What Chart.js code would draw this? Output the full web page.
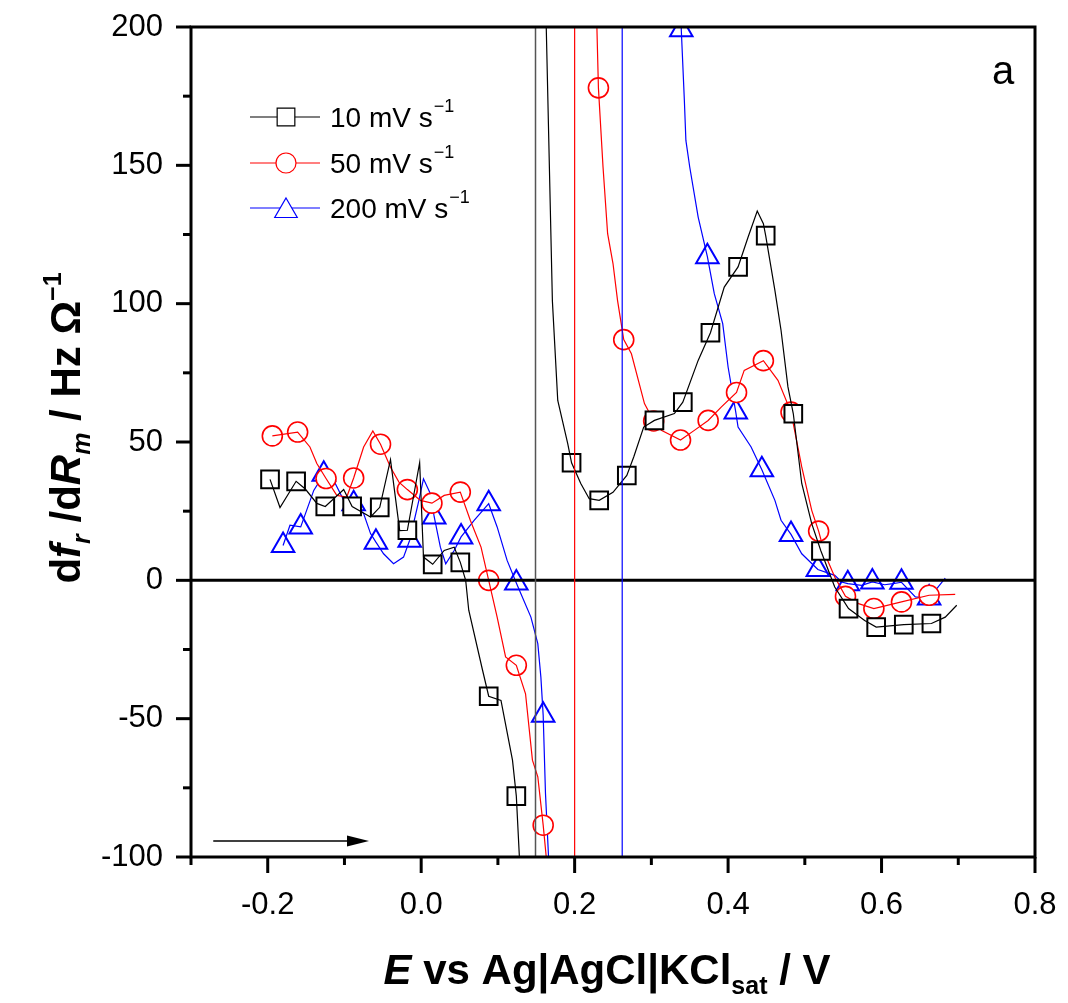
<!DOCTYPE html>
<html>
<head>
<meta charset="utf-8">
<script src="https://cdn.jsdelivr.net/npm/chart.js@4.4.1/dist/chart.umd.min.js"></script>
<style>
  html, body { margin: 0; padding: 0; background: #fff; }
  canvas { display: block; }
</style>
</head>
<body>
<canvas id="chart" width="1068" height="1003"></canvas>
<script>
// 10 mV/s (black), two branches either side of the asymptote
const blackLine1X = [-0.197, -0.184, -0.163, -0.151, -0.136, -0.125, -0.101, -0.090, -0.066, -0.054, -0.040, -0.028, -0.018, -0.002, 0.003, 0.015, 0.030, 0.043, 0.051, 0.058, 0.062, 0.080, 0.088, 0.104, 0.119, 0.124, 0.128, 0.131];
const blackLine1Y = [36.5, 26.3, 35.8, 33, 27.8, 26.7, 32.8, 26.7, 22.9, 26.4, 43.6, 18, 18.1, 42.5, 8.4, 5.8, 10.8, 12, 6.5, 0, -10.8, -32.5, -41.9, -43.4, -65, -78, -100, -115];
const blackLine2X = [0.161, 0.163, 0.171, 0.178, 0.191, 0.196, 0.208, 0.219, 0.232, 0.250, 0.268, 0.277, 0.290, 0.304, 0.330, 0.341, 0.361, 0.377, 0.395, 0.413, 0.426, 0.438, 0.446, 0.449, 0.461, 0.469, 0.478, 0.485, 0.496, 0.509, 0.521, 0.539, 0.557, 0.578, 0.593, 0.629, 0.665, 0.683, 0.698];
const blackLine2Y = [240, 200, 101, 65, 49.4, 42.5, 35, 29.5, 28.9, 31.8, 37.9, 44.6, 55.4, 57.8, 60.3, 64.4, 79.5, 89.5, 106, 113.3, 124, 133.5, 128.9, 124.6, 104.8, 90.4, 69.9, 60.2, 35, 20.5, 10.6, -2.4, -10.2, -14.5, -16.9, -16, -15.6, -13.3, -9];
const blackMarkX = [-0.197, -0.163, -0.125, -0.090, -0.054, -0.018, 0.015, 0.051, 0.088, 0.124, 0.196, 0.232, 0.268, 0.304, 0.341, 0.377, 0.413, 0.449, 0.485, 0.521, 0.557, 0.593, 0.629, 0.665];
const blackMarkY = [36.5, 35.8, 26.7, 26.7, 26.4, 18.1, 5.8, 6.5, -41.9, -78, 42.5, 28.9, 37.9, 57.8, 64.4, 89.5, 113.3, 124.6, 60.2, 10.6, -10.2, -16.9, -16, -15.6];

// 50 mV/s (red)
const redLine1X = [-0.194, -0.161, -0.145, -0.136, -0.124, -0.110, -0.097, -0.088, -0.075, -0.063, -0.053, -0.040, -0.029, -0.018, -0.001, 0.014, 0.030, 0.051, 0.064, 0.078, 0.088, 0.099, 0.110, 0.124, 0.136, 0.145, 0.152, 0.159, 0.163, 0.165];
const redLine1Y = [52.2, 53.6, 48.2, 42.2, 36.8, 30.7, 30.1, 37, 48.2, 54, 49.2, 40.9, 35.5, 32.8, 28.9, 27.9, 30.7, 31.9, 21.7, 12, 0, -13.3, -27.7, -30.7, -41, -65, -71, -88.5, -100, -120];
const redLine2X = [0.227, 0.229, 0.231, 0.237, 0.243, 0.250, 0.256, 0.264, 0.274, 0.291, 0.303, 0.313, 0.338, 0.356, 0.374, 0.391, 0.411, 0.421, 0.446, 0.465, 0.482, 0.496, 0.509, 0.518, 0.526, 0.539, 0.553, 0.570, 0.590, 0.626, 0.662, 0.696];
const redLine2Y = [230, 200, 178, 149.4, 125.3, 114.5, 101, 87, 81.9, 63.9, 57.6, 54.2, 50.7, 54.2, 57.8, 62.6, 67.9, 75.9, 79.4, 72.3, 60.8, 41, 25.3, 17.8, 9.6, 1.2, -5.8, -8.4, -10.2, -7.8, -5.4, -5.1];
const redMarkX = [-0.194, -0.161, -0.124, -0.088, -0.053, -0.018, 0.014, 0.051, 0.088, 0.124, 0.159, 0.231, 0.264, 0.303, 0.338, 0.374, 0.411, 0.446, 0.482, 0.518, 0.553, 0.590, 0.626, 0.662];
const redMarkY = [52.2, 53.6, 36.8, 37, 49.2, 32.8, 27.9, 31.9, 0, -30.7, -88.5, 178, 87, 57.6, 50.7, 57.8, 67.9, 79.4, 60.8, 17.8, -5.8, -10.2, -7.8, -5.4];

// 200 mV/s (blue)
const blueLine1X = [-0.180, -0.171, -0.157, -0.140, -0.127, -0.114, -0.101, -0.088, -0.075, -0.066, -0.059, -0.049, -0.036, -0.023, -0.015, -0.003, 0.003, 0.012, 0.017, 0.025, 0.032, 0.043, 0.052, 0.069, 0.088, 0.099, 0.112, 0.124, 0.143, 0.152, 0.156, 0.159, 0.162, 0.166, 0.168];
const blueLine1Y = [12.6, 19.9, 19.3, 32.5, 38.3, 36.1, 28.9, 27.7, 24.1, 16.9, 13.8, 9.6, 6, 8.4, 14.5, 28.9, 36.7, 31.3, 22.9, 12, 6, 10.8, 15.7, 21.7, 27.7, 19.3, 7.2, -1, -13.3, -22.9, -35, -48.8, -77, -100, -120];
const blueLine2X = [0.337, 0.339, 0.343, 0.345, 0.350, 0.361, 0.373, 0.382, 0.393, 0.400, 0.410, 0.413, 0.430, 0.444, 0.461, 0.469, 0.482, 0.496, 0.517, 0.539, 0.548, 0.556, 0.574, 0.588, 0.604, 0.615, 0.626, 0.644, 0.662, 0.683];
const blueLine2Y = [260, 199, 173.5, 159, 149.4, 131.3, 117, 103.6, 92.8, 77.1, 60.8, 55.4, 48.2, 40, 28.9, 21.7, 16.6, 9.6, 3.9, 1.8, -0.6, -1.2, -1.8, -0.6, -1.6, -1.2, -0.7, -6, -6.4, 0.8];
const blueMarkX = [-0.180, -0.157, -0.127, -0.088, -0.059, -0.015, 0.017, 0.052, 0.088, 0.124, 0.159, 0.339, 0.373, 0.410, 0.444, 0.482, 0.517, 0.556, 0.588, 0.626, 0.662];
const blueMarkY = [12.6, 19.3, 38.3, 27.7, 13.8, 14.5, 22.9, 15.7, 27.7, -1, -48.8, 199, 117, 60.8, 40, 16.6, 3.9, -1.2, -0.6, -0.7, -6.4];

// vertical marker lines, zero line, sweep arrow
const vlineX = [0.149, 0.2, 0.262];
const vlineColors = ['#555555', '#ff0000', '#0000ff'];
const zeroLineX = [-0.3, 0.8];
const arrowX = [-0.271, -0.068];
const arrowY = -94.2;

const seriesNames = ['10 mV s', '50 mV s', '200 mV s'];
const seriesColors = ['#000000', '#ff0000', '#0000ff'];
const seriesMarkers = ['rect', 'circle', 'triangle'];
const markerRadius = { rect: 12.5, circle: 10, triangle: 13 };

const xMin = -0.3, xMax = 0.8, yMin = -100, yMax = 200;
const FONT = '"Liberation Sans", Arial, sans-serif';

function pts(xs, ys) {
    return xs.map((x, i) => ({ x: x, y: ys[i] }));
}

function lineSet(xs, ys, color, width) {
    return {
        data: pts(xs, ys),
        showLine: true,
        borderColor: color,
        borderWidth: width,
        pointRadius: 0,
        fill: false,
        tension: 0
    };
}

function markSet(xs, ys, idx) {
    const style = seriesMarkers[idx];
    return {
        data: pts(xs, ys),
        showLine: false,
        pointStyle: style,
        pointRadius: markerRadius[style],
        pointBorderColor: seriesColors[idx],
        pointBackgroundColor: '#ffffff',
        pointBorderWidth: style === 'circle' ? 1.6 : 2,
        clip: 0
    };
}

const datasets = [];
vlineX.forEach((v, i) => {
    datasets.push(lineSet([v, v], [yMin, yMax], vlineColors[i], i === 0 ? 1.5 : 1.2));
});
datasets.push(lineSet(zeroLineX, [0, 0], '#000000', 3));
datasets.push(lineSet(blackLine1X, blackLine1Y, '#000000', 1.2));
datasets.push(lineSet(blackLine2X, blackLine2Y, '#000000', 1.2));
datasets.push(markSet(blackMarkX, blackMarkY, 0));
datasets.push(lineSet(redLine1X, redLine1Y, '#ff0000', 1.2));
datasets.push(lineSet(redLine2X, redLine2Y, '#ff0000', 1.2));
datasets.push(markSet(redMarkX, redMarkY, 1));
datasets.push(lineSet(blueLine1X, blueLine1Y, '#0000ff', 1.2));
datasets.push(lineSet(blueLine2X, blueLine2Y, '#0000ff', 1.2));
datasets.push(markSet(blueMarkX, blueMarkY, 2));

// text made of pieces with different fonts / offsets
function drawRich(ctx, parts, x, y) {
    let total = 0;
    parts.forEach(p => { ctx.font = p.f; total += ctx.measureText(p.t).width; });
    let cx = x - total / 2;
    parts.forEach(p => {
        ctx.font = p.f;
        ctx.fillText(p.t, cx, y + (p.dy || 0));
        cx += ctx.measureText(p.t).width;
    });
}

function drawMarker(ctx, style, x, y) {
    Chart.helpers.drawPoint(ctx, {
        pointStyle: style,
        radius: markerRadius[style],
        rotation: 0,
        borderWidth: style === 'circle' ? 1.6 : 2
    }, x, y);
}

const decor = {
    id: 'decor',
    afterDraw(chart) {
        const ctx = chart.ctx;
        const a = chart.chartArea;
        const xs = chart.scales.x, ys = chart.scales.y;
        ctx.save();
        ctx.fillStyle = '#000';
        ctx.strokeStyle = '#000';

        // frame
        ctx.lineWidth = 3;
        ctx.strokeRect(a.left, a.top, a.right - a.left, a.bottom - a.top);

        // ticks
        for (let i = -3; i <= 8; i++) {
            const px = xs.getPixelForValue(i / 10);
            const len = (i % 2 === 0) ? 16 : 8;
            ctx.beginPath();
            ctx.moveTo(px, a.bottom);
            ctx.lineTo(px, a.bottom + len);
            ctx.stroke();
        }
        for (let v = yMin; v <= yMax; v += 25) {
            const py = ys.getPixelForValue(v);
            const len = (v % 50 === 0) ? 15 : 8;
            ctx.beginPath();
            ctx.moveTo(a.left, py);
            ctx.lineTo(a.left - len, py);
            ctx.stroke();
        }

        // sweep direction arrow
        const ax0 = xs.getPixelForValue(arrowX[0]);
        const ax1 = xs.getPixelForValue(arrowX[1]);
        const ay = ys.getPixelForValue(arrowY);
        ctx.lineWidth = 1.5;
        ctx.beginPath();
        ctx.moveTo(ax0, ay);
        ctx.lineTo(ax1 - 18, ay);
        ctx.stroke();
        ctx.beginPath();
        ctx.moveTo(ax1, ay);
        ctx.lineTo(ax1 - 22, ay - 5.5);
        ctx.lineTo(ax1 - 22, ay + 5.5);
        ctx.closePath();
        ctx.fill();

        // panel letter
        ctx.font = '40px ' + FONT;
        ctx.textAlign = 'center';
        ctx.textBaseline = 'alphabetic';
        ctx.fillText('a', 1003, 84);
        ctx.textAlign = 'left';

        // legend
        const rowY = [117, 163, 208];
        seriesNames.forEach((name, i) => {
            const y = rowY[i];
            ctx.strokeStyle = seriesColors[i];
            ctx.lineWidth = 1.2;
            ctx.beginPath();
            ctx.moveTo(250, y);
            ctx.lineTo(320, y);
            ctx.stroke();
            ctx.fillStyle = '#fff';
            drawMarker(ctx, seriesMarkers[i], 286, y + (seriesMarkers[i] === 'triangle' ? 3 : 0));
            ctx.fillStyle = '#000';
            ctx.font = '28px ' + FONT;
            ctx.fillText(name, 330, y + 10);
            const w = ctx.measureText(name).width;
            ctx.font = '18px ' + FONT;
            ctx.fillText('\u22121', 330 + w + 1, y - 5);
        });

        // x title
        ctx.fillStyle = '#000';
        drawRich(ctx, [
            { t: 'E', f: 'italic bold 42px ' + FONT },
            { t: ' vs Ag|AgCl|KCl', f: 'bold 42px ' + FONT },
            { t: 'sat', f: 'bold 25px ' + FONT, dy: 10 },
            { t: ' / V', f: 'bold 42px ' + FONT }
        ], 607, 984);

        // y title
        ctx.save();
        ctx.translate(80, 428);
        ctx.rotate(-Math.PI / 2);
        drawRich(ctx, [
            { t: 'd', f: 'bold 42px ' + FONT },
            { t: 'f', f: 'italic bold 42px ' + FONT },
            { t: 'r', f: 'italic bold 25px ' + FONT, dy: 10 },
            { t: ' /d', f: 'bold 42px ' + FONT },
            { t: 'R', f: 'italic bold 42px ' + FONT },
            { t: 'm', f: 'italic bold 25px ' + FONT, dy: 10 },
            { t: ' / Hz \u03A9', f: 'bold 42px ' + FONT },
            { t: '\u22121', f: 'bold 25px ' + FONT, dy: -19 }
        ], 0, 0);
        ctx.restore();

        ctx.restore();
    }
};

new Chart(document.getElementById('chart'), {
    type: 'scatter',
    data: { datasets: datasets },
    options: {
        responsive: false,
        animation: false,
        devicePixelRatio: 1,
        layout: { padding: { left: 0, top: 27, right: 33, bottom: 0 } },
        plugins: { legend: { display: false }, tooltip: { enabled: false } },
        scales: {
            x: {
                type: 'linear',
                min: xMin,
                max: xMax,
                afterFit: s => { s.height = 146; s.paddingLeft = 0; s.paddingRight = 0; },
                grid: { display: false, drawTicks: false },
                border: { display: false },
                ticks: {
                    stepSize: 0.1,
                    padding: 30,
                    color: '#000',
                    font: { family: FONT, size: 31 },
                    maxRotation: 0,
                    autoSkip: false,
                    callback: v => (Math.round(v * 10) % 2 === 0) ? v.toFixed(1) : ''
                }
            },
            y: {
                type: 'linear',
                min: yMin,
                max: yMax,
                afterFit: s => { s.width = 191; s.paddingTop = 0; s.paddingBottom = 0; },
                grid: { display: false, drawTicks: false },
                border: { display: false },
                ticks: {
                    stepSize: 25,
                    padding: 28,
                    color: '#000',
                    font: { family: FONT, size: 31 },
                    autoSkip: false,
                    callback: v => (v % 50 === 0) ? String(v) : ''
                }
            }
        }
    },
    plugins: [decor]
});
</script>
</body>
</html>
